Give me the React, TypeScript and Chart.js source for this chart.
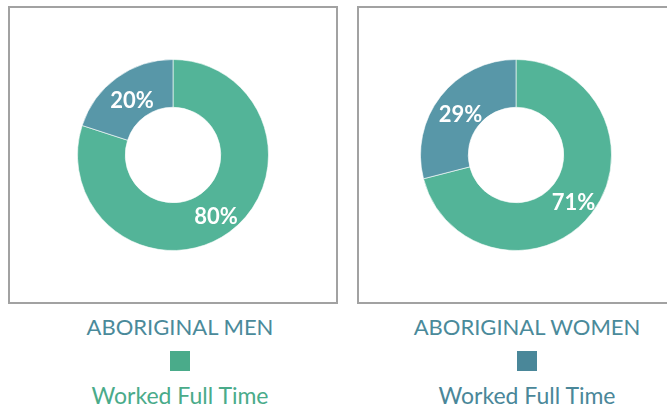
import React, { useEffect, useRef } from 'react';
import { Chart, registerables } from 'chart.js';

Chart.register(...registerables);

// ---- data ----
const panelTitles = ['ABORIGINAL MEN', 'ABORIGINAL WOMEN'];
const sliceNames = ['Worked Full Time', 'Other'];
const menValues = [80, 20];
const womenValues = [71, 29];
const legendLabels = ['Worked Full Time', 'Worked Full Time'];

// ---- styles ----
const FONT = 'Lato, "Open Sans", sans-serif';
const GREEN = '#53b498';
const TEAL = '#5897a8';
const TITLE_COLOR = '#4a8a9a';
const legendSquareColors = ['#4aab8a', '#4a8799'];
const legendTextColors = ['#4aab8a', '#4a8799'];

const boxLeft = [8, 357];
const donutCenterX = [173, 515.5];
const legendCenterX = [180, 527];

const labelPlugin = {
  id: 'sliceLabels',
  afterDatasetsDraw(chart: any) {
    const ctx = chart.ctx;
    const meta = chart.getDatasetMeta(0);
    const data = chart.data.datasets[0].data;
    ctx.save();
    ctx.fillStyle = '#ffffff';
    ctx.font = `bold 22px ${FONT}`;
    ctx.textAlign = 'center';
    ctx.textBaseline = 'middle';
    meta.data.forEach((arc: any, i: number) => {
      const p = arc.tooltipPosition(true);
      ctx.fillText(`${data[i]}%`, p.x + 1, p.y + 4);
    });
    ctx.restore();
  },
};

function Donut({ values }: { values: number[] }) {
  const ref = useRef<HTMLCanvasElement>(null);
  useEffect(() => {
    const chart = new Chart(ref.current!, {
      type: 'doughnut',
      data: {
        labels: sliceNames,
        datasets: [
          {
            data: values,
            backgroundColor: [GREEN, TEAL],
            borderColor: 'rgba(255,255,255,0.6)',
            borderWidth: 1,
          },
        ],
      },
      options: {
        animation: false,
        responsive: true,
        maintainAspectRatio: false,
        cutout: '50%',
        layout: { padding: 4 },
        plugins: {
          legend: { display: false },
          tooltip: { enabled: false },
          title: { display: false },
        },
      },
      plugins: [labelPlugin],
    });
    return () => chart.destroy();
  }, [values]);
  return <canvas ref={ref} />;
}

function Panel({ idx, values }: { idx: number; values: number[] }) {
  const cx = donutCenterX[idx];
  const lx = legendCenterX[idx];
  return (
    <>
      <div
        style={{
          position: 'absolute',
          left: boxLeft[idx],
          top: 6,
          width: 330,
          height: 298,
          border: '2px solid #a2a2a2',
          boxSizing: 'border-box',
        }}
      />
      <div
        style={{
          position: 'absolute',
          left: cx - 100,
          top: 155 - 100,
          width: 200,
          height: 200,
        }}
      >
        <Donut values={values} />
      </div>
      <div
        style={{
          position: 'absolute',
          left: lx - 150,
          width: 300,
          top: 316,
          textAlign: 'center',
          fontFamily: FONT,
          fontSize: 22,
          lineHeight: '22px',
          color: TITLE_COLOR,
          whiteSpace: 'nowrap',
        }}
      >
        {panelTitles[idx]}
      </div>
      <div
        style={{
          position: 'absolute',
          left: lx - 10,
          top: 351,
          width: 20,
          height: 20,
          background: legendSquareColors[idx],
        }}
      />
      <div
        style={{
          position: 'absolute',
          left: lx - 150,
          width: 300,
          top: 384,
          textAlign: 'center',
          fontFamily: FONT,
          fontSize: 23,
          lineHeight: '23px',
          color: legendTextColors[idx],
          whiteSpace: 'nowrap',
        }}
      >
        {legendLabels[idx]}
      </div>
    </>
  );
}

export default function App() {
  return (
    <div
      style={{
        position: 'fixed',
        left: 0,
        top: 0,
        width: 667,
        height: 409,
        overflow: 'hidden',
        background: '#ffffff',
      }}
    >
      <Panel idx={0} values={menValues} />
      <Panel idx={1} values={womenValues} />
    </div>
  );
}
